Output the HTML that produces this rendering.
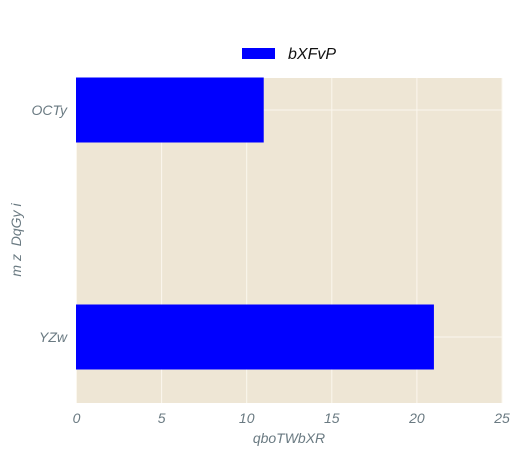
<!DOCTYPE html>
<html><head><meta charset="utf-8"><style>
body{margin:0;background:#fff;width:520px;height:455px;overflow:hidden}
text{font-family:"Liberation Sans",sans-serif;font-style:italic}
</style></head><body>
<svg id="c" width="520" height="455">
<rect x="76" y="78" width="426" height="325" fill="#eee6d5"/>
<g id="grid"></g><g id="bars"></g><g id="ticks"></g>
<text x="289" y="443" text-anchor="middle" font-size="14" fill="#6a7a82">qboTWbXR</text>
<text transform="translate(21,240) rotate(-90)" text-anchor="middle" font-size="14" fill="#6a7a82" style="white-space:pre" xml:space="preserve">m z  DqGy i</text>
<g>
<rect x="242" y="48" width="33" height="11" fill="#0000ff"/>
<text x="288" y="59" font-size="16" fill="#111">bXFvP</text>
</g>
</svg>
<script>
const categories=["YZw","OCTy"];
const values=[21,11];
const xTicks=[0,5,10,15,20,25];
const ns="http://www.w3.org/2000/svg";
const x0=76.5,x1=502,xMax=25;
const xs=v=>x0+(x1-x0)*v/xMax;
const ys=i=>337-227*i;
const bh=65;
function mk(t,a,p){const e=document.createElementNS(ns,t);for(const k in a)e.setAttribute(k,a[k]);document.getElementById(p).appendChild(e);return e;}
xTicks.forEach(t=>{
 const g=mk("line",{x1:xs(t),x2:xs(t),y1:78,y2:403,stroke:"#fbf7ee","stroke-width":1},"grid");
 
 
 const l=mk("text",{x:xs(t),y:423,"text-anchor":"middle","font-size":14,fill:"#6a7a82"},"ticks");
 l.textContent=t;
 
 
});
categories.forEach((c,i)=>{
 const g=mk("line",{x1:76,x2:502,y1:ys(i),y2:ys(i),stroke:"#fbf7ee","stroke-width":1},"grid");
 
 
 const b=mk("rect",{x:xs(0)-0.5,y:ys(i)-bh/2,width:xs(values[i])-xs(0)+0.5,height:bh,fill:"#0000ff"},"bars");
 
 
 const l=mk("text",{x:67,y:ys(i)+5,"text-anchor":"end","font-size":14,fill:"#6a7a82"},"ticks");
 l.textContent=c;
 
 
});
</script>
</body></html>
